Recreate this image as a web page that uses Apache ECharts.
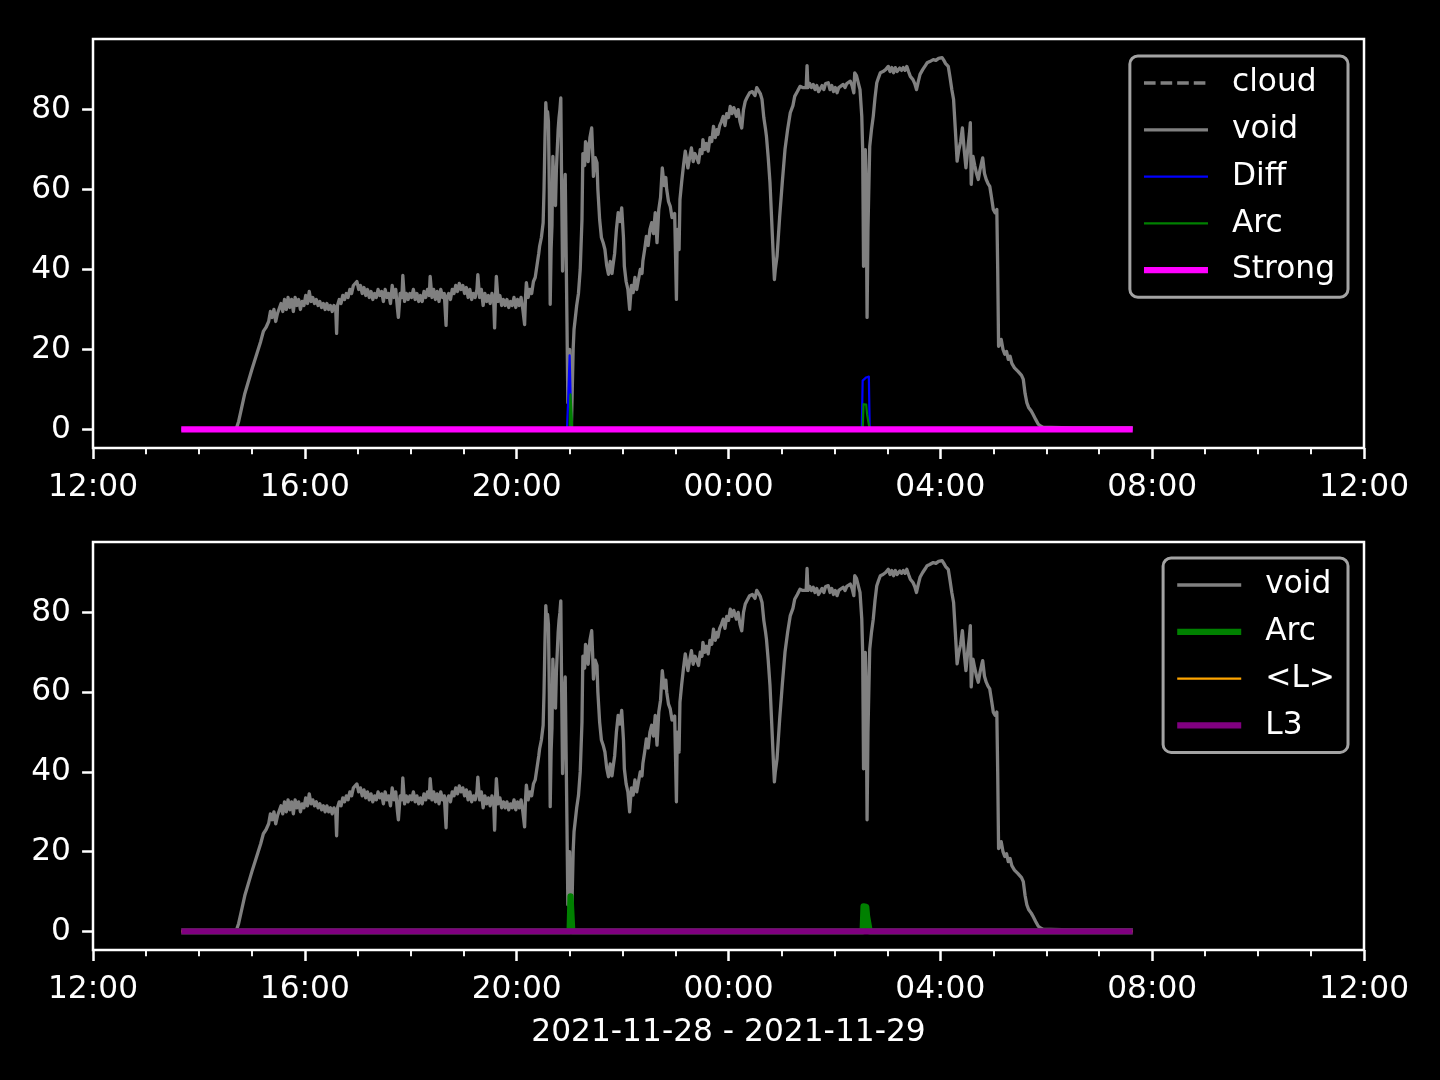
<!DOCTYPE html>
<html><head><meta charset="utf-8">
<script src="https://cdn.jsdelivr.net/npm/echarts@6/dist/echarts.min.js"></script>
<style>html,body{margin:0;padding:0;background:#000;}#c{width:1440px;height:1080px;}</style>
</head><body><div id="c"></div>
<script>
// ---- data (time as HH:MM, 2021-11-28 12:00 .. 2021-11-29 12:00) ----
const voidPoints = [
['13:40',0],['14:42',0],['14:45',2],['14:48',5],['14:52',9],['14:56',12],['15:00',15],['15:05',18.5],['15:10',22],['15:13',24.5],
['15:16',25.5],['15:19',27],['15:21',29.5],['15:23',28],['15:25',30],['15:27',27],['15:29',29],['15:31',28.5],['15:33',31.5],['15:35',29.5],
['15:37',32.5],['15:39',30],['15:41',33],['15:43',30.5],['15:45',32.5],['15:47',29.5],['15:49',33],['15:51',31],['15:53',32.5],['15:55',30],
['15:57',32],['15:59',31],['16:01',33.5],['16:03',31.5],['16:05',34.5],['16:07',32],['16:09',33],['16:11',31.5],['16:13',32.5],['16:15',31],
['16:17',32],['16:19',30.5],['16:21',31.5],['16:23',30],['16:25',31.5],['16:27',30],['16:29',31],['16:31',29.5],['16:33',31],['16:35',30],
['16:36',24],['16:37',31],['16:39',32.5],['16:41',31.5],['16:43',33.5],['16:45',32.5],['16:47',34],['16:49',33],['16:51',35],['16:53',34],
['16:55',36],['16:57',35.5],['16:59',37],['17:01',35],['17:03',36],['17:05',34],['17:07',35.5],['17:09',33.5],['17:11',35],['17:13',33],
['17:15',34.5],['17:17',32.5],['17:19',34],['17:21',33],['17:23',35],['17:25',33.5],['17:27',34.5],['17:29',32],['17:31',35],['17:33',33],
['17:35',34],['17:37',31.5],['17:39',36],['17:41',33],['17:43',35],['17:45',30],['17:46',28],['17:48',34],['17:50',33],['17:51',38.5],
['17:53',32],['17:55',34],['17:57',32.5],['17:59',34],['18:01',33],['18:03',35],['18:05',32.5],['18:07',34],['18:09',32],['18:11',33.5],
['18:13',32],['18:15',34.5],['18:17',33],['18:19',35],['18:21',33.5],['18:22',38.3],['18:24',33],['18:26',35],['18:28',32.5],['18:30',34.5],
['18:32',32],['18:34',35],['18:36',33],['18:38',34],['18:40',26],['18:41',33],['18:43',34],['18:45',32.5],['18:47',35],['18:49',34],
['18:51',36],['18:53',34.5],['18:55',36.5],['18:57',35],['18:59',36],['19:01',34],['19:03',35.5],['19:05',33],['19:07',35],['19:09',32.5],
['19:11',34],['19:13',33],['19:15',35],['19:16',38.7],['19:18',33],['19:20',35],['19:22',31],['19:24',34],['19:26',32],['19:28',33.5],
['19:30',31.5],['19:32',34],['19:34',32],['19:35',25.4],['19:36',33],['19:37',38.3],['19:39',32],['19:41',33.5],['19:43',31],['19:45',32.5],
['19:47',31],['19:49',32.5],['19:51',30.5],['19:53',32],['19:55',31],['19:57',33],['19:59',30.5],['20:01',32.5],['20:03',31],['20:05',33],
['20:07',30],['20:09',26.2],['20:10',33],['20:11',36.7],['20:13',33],['20:15',35],['20:17',34],['20:19',37],['20:21',38],['20:23',41],
['20:25',44],['20:26',45.8],['20:28',48],['20:30',51.7],['20:31',60],['20:32',72],['20:33',81.7],['20:34',78],['20:35',79.5],['20:36',77],
['20:37',60],['20:38',31.3],['20:39',45],['20:40',51],['20:41',68.3],['20:42',62],['20:43',58],['20:44',56],['20:45',65],['20:46',70],
['20:47',75],['20:48',78],['20:49',80],['20:50',82.9],['20:51',60],['20:52',39.6],['20:53',50],['20:54',60],['20:55',63.8],['20:56',45],
['20:57',26.7],['20:58',6.7],['20:59',12],['21:00',20],['21:01',5],['21:02',0.8],['21:03',10],['21:04',20],['21:05',25],['21:06',27],
['21:08',31],['21:10',34],['21:12',40],['21:14',52.5],['21:15',69],['21:17',66],['21:18',72],['21:20',71],['21:21',67],['21:23',73],
['21:25',75.4],['21:26',70],['21:27',63.3],['21:29',68],['21:31',66.7],['21:32',60],['21:34',52.5],['21:36',48],['21:38',46.7],['21:40',45],
['21:42',41],['21:44',38.8],['21:46',42],['21:48',39],['21:49',40.8],['21:51',44],['21:53',50],['21:55',54.2],['21:57',52],['21:59',55.4],
['22:01',48],['22:02',40.8],['22:04',37],['22:06',35],['22:08',30],['22:10',36],['22:12',34.2],['22:14',38],['22:16',35],['22:18',37.5],
['22:20',40],['22:22',39],['22:23',42.1],['22:25',45],['22:27',48.3],['22:29',46],['22:31',50],['22:33',51.7],['22:35',49],['22:37',54.2],
['22:39',46.7],['22:41',55],['22:43',58],['22:45',65.4],['22:47',61],['22:49',63],['22:50',60],['22:52',57],['22:54',55.8],['22:56',53],
['22:57',52.5],['22:59',54],['23:01',32.5],['23:02',50],['23:04',45],['23:05',57.5],['23:07',62],['23:09',66],['23:11',69.6],['23:13',67],
['23:14',65.4],['23:16',68],['23:18',70.4],['23:20',67],['23:22',69],['23:24',68],['23:26',66.7],['23:28',70],['23:30',69],['23:31',72.5],
['23:33',70],['23:35',71.5],['23:37',69.6],['23:39',73],['23:41',72],['23:43',75.8],['23:45',73],['23:47',75],['23:48',73.8],['23:50',76],
['23:52',77],['23:54',78.3],['23:56',76],['23:58',79],['00:00',78],['00:02',80.8],['00:04',79],['00:06',80.5],['00:08',79],['00:09',78.3],
['00:11',80],['00:13',77],['00:15',75.4],['00:17',80],['00:19',82.1],['00:21',83],['00:24',84.2],['00:27',84.5],['00:30',83.5],['00:32',85.5],
['00:34',85],['00:36',84],['00:38',82.5],['00:40',78],['00:42',75],['00:43',73.3],['00:45',68],['00:47',61.7],['00:49',52],['00:51',42],
['00:52',37.5],['00:53',40],['00:55',43.3],['00:58',53.3],['01:01',62],['01:04',70],['01:07',75],['01:10',79.2],['01:13',81],['01:15',83.3],
['01:18',84.5],['01:21',85.8],['01:24',85.5],['01:26',86],['01:28',85.5],['01:29',91],['01:30',85.5],['01:32',86.5],['01:34',85.5],['01:36',86.3],
['01:38',85],['01:40',86],['01:42',84.5],['01:44',85],['01:46',86],['01:48',85],['01:50',86.5],['01:53',86.7],['01:55',85],['01:57',86],
['01:59',84.5],['02:01',85.5],['02:03',84.2],['02:05',85.5],['02:07',85],['02:10',86.3],['02:12',85.5],['02:14',86.5],['02:16',86],['02:18',87.1],
['02:20',86],['02:22',84.2],['02:23',89.2],['02:25',88.5],['02:27',88.3],['02:29',85],['02:31',78.3],['02:32',70],['02:33',40.8],['02:35',70],
['02:36',60],['02:37',28],['02:38',50],['02:40',70.8],['02:42',75],['02:44',78.3],['02:46',83],['02:48',86.7],['02:50',88],['02:52',89.2],
['02:55',89.5],['02:58',90],['03:01',90.8],['03:03',89.5],['03:05',90.5],['03:07',89.2],['03:09',90.5],['03:11',89.5],['03:14',90.4],['03:16',89.8],
['03:18',90.5],['03:20',89.8],['03:22',90.8],['03:24',89.5],['03:26',88.3],['03:29',87.5],['03:31',86.5],['03:33',85],['03:35',87],['03:37',88.8],
['03:40',90],['03:43',91],['03:45',91.7],['03:48',92],['03:50',91.8],['03:52',92.5],['03:55',92.3],['03:58',92.8],['04:00',92.6],['04:02',93],
['04:04',92.3],['04:06',91.5],['04:08',91],['04:09',90.8],['04:11',88],['04:13',85],['04:15',82.5],['04:17',75],['04:19',67.1],['04:21',70],
['04:23',72],['04:25',75.4],['04:27',70],['04:29',65.4],['04:31',70],['04:33',74],['04:34',76.7],['04:35',61.3],['04:37',68.3],['04:39',66],
['04:41',64],['04:43',62.5],['04:45',65],['04:47',67],['04:48',67.9],['04:50',64],['04:52',62.5],['04:54',61.5],['04:56',60.8],['04:58',58],
['05:00',55],['05:02',54.2],['05:04',55],['05:05',40],['05:06',20.8],['05:08',21.5],['05:09',22.5],['05:11',20],['05:13',18.8],['05:15',19.5],
['05:17',17.5],['05:19',18.3],['05:21',16.5],['05:23',16],['05:24',15.4],['05:26',15.8],['05:28',14.5],['05:30',14.6],['05:32',13.5],['05:34',12.5],
['05:36',9],['05:38',6.7],['05:40',5.5],['05:43',4.6],['05:45',3.8],['05:48',2.5],['05:51',1.3],['05:54',0.8],['05:57',0.5],['06:05',0.5],
['06:30',0.4],['07:00',0.4],['07:38',0.4]
];
const cloudPoints = [];
const diffPoints = [['13:40',0],['20:57',0],['20:58',5.5],['20:59',5],['21:00',18.5],['21:01',18.5],['21:02',0],
  ['02:31',0],['02:32',12.2],['02:34',12.5],['02:36',13],['02:39',13.2],['02:40',0],['07:38',0]];
const arcPoints = [['13:40',0],['21:00',0],['21:01',8.8],['21:02',8.5],['21:03',0],
  ['02:32',0],['02:33',6.3],['02:36',6.2],['02:37',3.8],['02:39',3.8],['02:40',0],['07:38',0]];
const strongPoints = [['13:40',0],['07:38',0]];
const lMeanPoints = [['13:40',0],['07:38',0]];
const l3Points = [['13:40',0],['07:38',0]];
const topLegendNames = ['cloud','void','Diff','Arc','Strong'];
const bottomLegendNames = ['void','Arc','<L>','L3'];
const yTickValues = [0,20,40,60,80];
const xAxisTitle = '2021-11-28 - 2021-11-29';

// ---- helpers ----
function toMs(hhmm){const p=hhmm.split(':').map(Number);const day=p[0]<12?29:28;return Date.UTC(2021,10,day,p[0],p[1]);}
function conv(arr){return arr.map(d=>[toMs(d[0]),d[1]]);}
const X0 = Date.UTC(2021,10,28,12,0), X1 = Date.UTC(2021,10,29,12,0);
const pad=n=>(n<10?'0':'')+n;
const fmt=v=>{const d=new Date(v);return pad(d.getUTCHours())+':'+pad(d.getUTCMinutes());};
const vmax = Math.max(...voidPoints.map(d=>d[1]),...diffPoints.map(d=>d[1]),...arcPoints.map(d=>d[1]));
const yMin = -0.05*vmax, yMax = 1.05*vmax;
const FF = 'DejaVu Sans', FS = 31.25;

// styles per series name, per panel
const styleTop = {cloud:{color:'#808080',width:3.3,type:[11.6,5]},void:{color:'#808080',width:3.3},Diff:{color:'#0000ff',width:2.2},
  Arc:{color:'#008000',width:2.2},Strong:{color:'#ff00ff',width:6.25}};
const styleBottom = {void:{color:'#808080',width:3.3},Arc:{color:'#008000',width:6.25},'<L>':{color:'#ffa500',width:2.2},L3:{color:'#800080',width:6.25}};

function xAxis(i, extra){
  return Object.assign({type:'value',gridIndex:i,min:X0,max:X1,interval:4*3600e3,
    axisLine:{show:false,onZero:false},splitLine:{show:false},
    axisTick:{show:true,length:10.9,lineStyle:{color:'#fff',width:2.5}},
    minorTick:{show:true,splitNumber:4,length:6.25,lineStyle:{color:'#fff',width:1.9}},
    axisLabel:{color:'#fff',fontSize:FS,fontFamily:FF,margin:24,formatter:fmt,showMinLabel:true,showMaxLabel:true}},extra||{});
}
function yAxis(i){
  return {type:'value',gridIndex:i,min:yMin,max:yMax,
    axisLine:{show:false,onZero:false},splitLine:{show:false},
    axisTick:{show:true,customValues:yTickValues,length:10.9,lineStyle:{color:'#fff',width:2.5}},
    axisLabel:{customValues:yTickValues,color:'#fff',fontSize:FS,fontFamily:FF,margin:22,lineHeight:35,padding:[6,0,0,0]}};
}
function line(name,pts,st,xi){
  const ls = {color:st.color,width:st.width,join:'round',cap:'butt'};
  if (st.type) ls.type = st.type;
  return {type:'line',name:name,data:conv(pts),xAxisIndex:xi,yAxisIndex:xi,
    symbol:'none',showSymbol:false,animation:false,lineStyle:ls,itemStyle:{color:st.color}};
}
function legendData(names, styles){
  return names.map(n=>{const s=styles[n];const ls={color:s.color,width:s.width};if(s.type)ls.type=s.type;
    return {name:n,lineStyle:ls,itemStyle:{opacity:0,color:'transparent',borderWidth:0}};});
}
const legendCommon = {orient:'vertical',right:92,itemWidth:64,itemHeight:14,itemGap:15.8,
  padding:[11.5,13,11.5,11],selectedMode:false,backgroundColor:'rgba(0,0,0,0.8)',borderColor:'#a3a3a3',borderWidth:3,borderRadius:8,
  itemStyle:{opacity:0,color:'transparent',borderWidth:0},
  textStyle:{color:'#fff',fontSize:FS,fontFamily:FF,lineHeight:31,padding:[0,0,0,19]}};

const chart = echarts.init(document.getElementById('c'),null,{renderer:'canvas'});
chart.setOption({
  backgroundColor:'#000',
  animation:false,
  textStyle:{fontFamily:FF},
  grid:[
    {left:93,top:39,width:1271,height:409,show:true,borderColor:'#fff',borderWidth:2.5,backgroundColor:'transparent'},
    {left:93,top:542,width:1271,height:408,show:true,borderColor:'#fff',borderWidth:2.5,backgroundColor:'transparent'}
  ],
  xAxis:[xAxis(0), xAxis(1,{name:xAxisTitle,nameLocation:'middle',nameGap:67,nameTextStyle:{color:'#fff',fontSize:FS,fontFamily:FF}})],
  yAxis:[yAxis(0), yAxis(1)],
  legend:[
    Object.assign({},legendCommon,{top:56,data:legendData(topLegendNames,styleTop)}),
    Object.assign({},legendCommon,{top:558,data:legendData(bottomLegendNames,styleBottom)})
  ],
  series:[
    line('cloud',cloudPoints,styleTop.cloud,0),
    line('void',voidPoints,styleTop.void,0),
    line('Diff',diffPoints,styleTop.Diff,0),
    line('Arc',arcPoints,styleTop.Arc,0),
    line('Strong',strongPoints,styleTop.Strong,0),
    line('void',voidPoints,styleBottom.void,1),
    line('Arc',arcPoints,styleBottom.Arc,1),
    line('<L>',lMeanPoints,styleBottom['<L>'],1),
    line('L3',l3Points,styleBottom.L3,1)
  ]
});
</script></body></html>
